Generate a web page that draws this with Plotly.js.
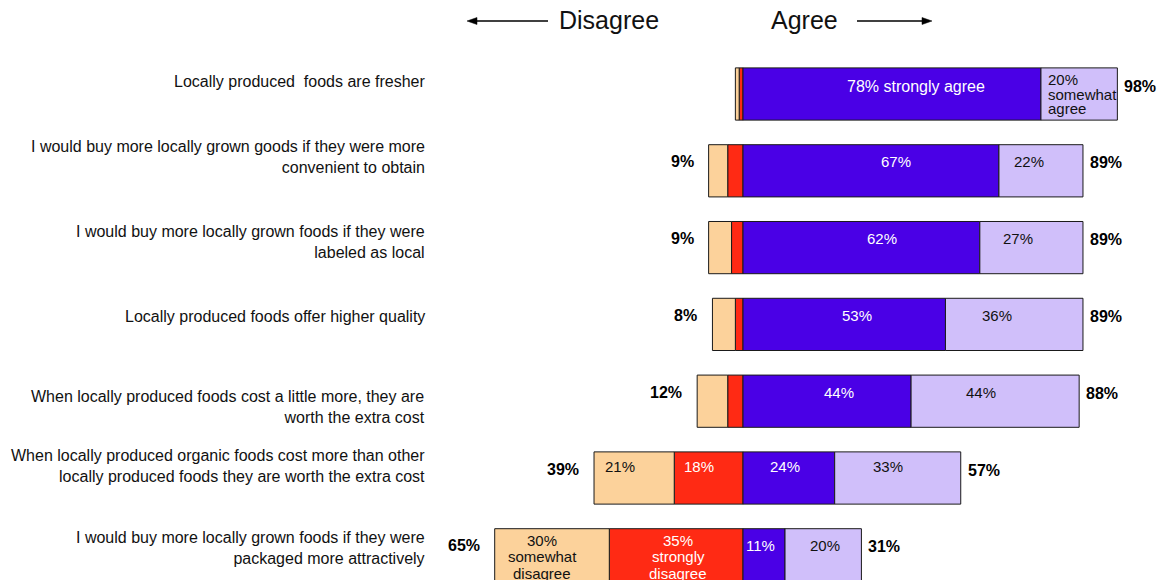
<!DOCTYPE html>
<html><head><meta charset="utf-8">
<script src="https://cdn.plot.ly/plotly-3.0.1.min.js"></script>
<style>body{margin:0;background:#fff}#chart{width:1162px;height:580px}</style>
</head><body><div id="chart"></div>
<script>
// ---- data ----
const statements = [
  "Locally produced  foods are fresher",
  "I would buy more locally grown goods if they were more<br>convenient to obtain",
  "I would buy more locally grown foods if they were<br>labeled as local",
  "Locally produced foods offer higher quality",
  "When locally produced foods cost a little more, they are<br>worth the extra cost",
  "When locally produced organic foods cost more than other<br>locally produced foods they are worth the extra cost",
  "I would buy more locally grown foods if they were<br>packaged more attractively"
];
const somewhatDisagree = [1, 5, 6, 6, 8, 21, 30];
const stronglyDisagree = [1, 4, 3, 2, 4, 18, 35];
const stronglyAgree    = [78, 67, 62, 53, 44, 24, 11];
const somewhatAgree    = [20, 22, 27, 36, 44, 33, 20];
const disagreeTotal    = [null, 9, 9, 8, 12, 39, 65];
const agreeTotal       = [98, 89, 89, 89, 88, 57, 31];
// segment label notes (null = no label shown)
const somewhatDisagreeNote = [null, null, null, null, null, "", "<br>somewhat<br>disagree"];
const stronglyDisagreeNote = [null, null, null, null, null, "", "<br>strongly<br>disagree"];
const stronglyAgreeNote    = [" strongly agree", "", "", "", "", "", ""];
const somewhatAgreeNote    = ["<br>somewhat<br>agree", "", "", "", "", "", ""];
const headers = ["Disagree", "Agree"];

// ---- styling / layout tweaks ----
const FONT = "Liberation Sans, Arial, Helvetica, sans-serif";
const COLORS = {swd: "#FCD29B", sd: "#FF2A14", sa: "#4A00E6", swa: "#D0BFFA"};
const rowIdx = statements.map((_, i) => i);
const stmtNudge = [13, 14, 6, 8, -6, 12, 7];
const singleLift = [8, 9, 9, 9, 9, 12, 9];
const multiLift = [0, 0, 0, 0, 0, 0, -2];
const multiGap = [14.5, 15, 15, 15, 15, 15, 16.5];
const labelShiftX = {"sa-0": 24, "sa-1": 25, "sa-2": 21, "sa-3": 13, "sa-4": 12, "sa-5": -4,
  "swa-1": -12, "swa-2": -13, "swa-3": -17, "swa-4": -14, "swa-5": -10, "swa-6": 2,
  "swd-5": -14, "swd-6": -10, "sd-5": -10, "sd-6": 2, "sa-6": -4};
const leftAlign = {"swa-0": 5};

function barTrace(name, vals, color, sign) {
  return {
    type: "bar", orientation: "h", name: name,
    y: rowIdx, x: vals.map(v => sign * v),
    width: 0.68,
    marker: {color: color, line: {color: "#1a1a1a", width: 1}},
    hoverinfo: "skip", textposition: "none"
  };
}

const data = [
  barTrace("Strongly disagree", stronglyDisagree, COLORS.sd, -1),
  barTrace("Somewhat disagree", somewhatDisagree, COLORS.swd, -1),
  barTrace("Strongly agree", stronglyAgree, COLORS.sa, 1),
  barTrace("Somewhat agree", somewhatAgree, COLORS.swa, 1)
];

const annotations = [];
const shapes = [];

// statements on the left
statements.forEach((s, i) => {
  annotations.push({
    xref: "paper", yref: "y", x: 427 / 1162, y: i, xanchor: "right", yanchor: "middle",
    align: "right", text: s, showarrow: false, yshift: stmtNudge[i],
    font: {family: FONT, size: 16, color: "#111"}
  });
});

// segment labels
function segLabels(key, vals, notes, startFn, color) {
  vals.forEach((v, i) => {
    const note = notes[i];
    if (note === null || note === undefined) return;
    const full = v + "%" + note;
    const lines = full.split("<br>");
    const id = key + "-" + i;
    const start = startFn(i);
    const isLeft = leftAlign[id] !== undefined;
    const cx = isLeft ? start.x0 : start.c;
    const n = lines.length;
    const gap = multiGap[i];
    lines.forEach((ln, k) => {
      const baseLift = n === 1 ? singleLift[i] : multiLift[i];
      annotations.push({
        xref: "x", yref: "y", x: cx, y: i,
        xanchor: isLeft ? "left" : "center", yanchor: "middle",
        xshift: isLeft ? leftAlign[id] : (labelShiftX[id] || 0),
        yshift: baseLift - (k - (n - 1) / 2) * gap,
        text: ln, showarrow: false,
        font: {family: FONT, size: (n === 1 && note) ? 16 : 15, color: color}
      });
    });
  });
}
segLabels("sd", stronglyDisagree, stronglyDisagreeNote,
  i => ({c: -stronglyDisagree[i] / 2, x0: -stronglyDisagree[i]}), "#ffffff");
segLabels("swd", somewhatDisagree, somewhatDisagreeNote,
  i => ({c: -(stronglyDisagree[i] + somewhatDisagree[i] / 2), x0: -(stronglyDisagree[i] + somewhatDisagree[i])}), "#111");
segLabels("sa", stronglyAgree, stronglyAgreeNote,
  i => ({c: stronglyAgree[i] / 2, x0: 0}), "#ffffff");
segLabels("swa", somewhatAgree, somewhatAgreeNote,
  i => ({c: stronglyAgree[i] + somewhatAgree[i] / 2, x0: stronglyAgree[i]}), "#111");

// totals
rowIdx.forEach(i => {
  if (disagreeTotal[i] !== null) {
    annotations.push({
      xref: "x", yref: "y", x: -(stronglyDisagree[i] + somewhatDisagree[i]), y: i,
      xanchor: "right", yanchor: "middle", xshift: -13, yshift: 9,
      text: "<b>" + disagreeTotal[i] + "%</b>", showarrow: false,
      font: {family: FONT, size: 16, color: "#000"}
    });
  }
  annotations.push({
    xref: "x", yref: "y", x: stronglyAgree[i] + somewhatAgree[i], y: i,
    xanchor: "left", yanchor: "middle", xshift: 5, yshift: 8,
    text: "<b>" + agreeTotal[i] + "%</b>", showarrow: false,
    font: {family: FONT, size: 16, color: "#000"}
  });
});

// headers with arrows
const W = 1162, H = 580;
const hy = 1 - 21 / H;
annotations.push({xref: "paper", yref: "paper", x: 609 / W, y: 1 - 20 / H, xanchor: "center", yanchor: "middle",
  text: headers[0], showarrow: false, font: {family: FONT, size: 25, color: "#111"}});
annotations.push({xref: "paper", yref: "paper", x: 804 / W, y: 1 - 20 / H, xanchor: "center", yanchor: "middle",
  text: headers[1], showarrow: false, font: {family: FONT, size: 25, color: "#111"}});
const arrowLine = {color: "#000", width: 1.5};
shapes.push({type: "line", xref: "paper", yref: "paper", x0: 474 / W, x1: 548 / W, y0: hy, y1: hy, line: arrowLine});
shapes.push({type: "line", xref: "paper", yref: "paper", x0: 857 / W, x1: 925 / W, y0: hy, y1: hy, line: arrowLine});
const dy = 3.5 / H;
shapes.push({type: "path", xref: "paper", yref: "paper",
  path: `M ${467 / W} ${hy} L ${477 / W} ${hy + dy} L ${477 / W} ${hy - dy} Z`,
  fillcolor: "#000", line: {color: "#000", width: 0.5}});
shapes.push({type: "path", xref: "paper", yref: "paper",
  path: `M ${932 / W} ${hy} L ${922 / W} ${hy + dy} L ${922 / W} ${hy - dy} Z`,
  fillcolor: "#000", line: {color: "#000", width: 0.5}});

const pxPerPct = 3.82;
const zeroPx = 743;
const rowPx = 76.8, firstRowPx = 94;

const layout = {
  width: W, height: H,
  margin: {l: 0, r: 0, t: 0, b: 0, pad: 0},
  paper_bgcolor: "#ffffff", plot_bgcolor: "#ffffff",
  barmode: "relative",
  showlegend: false,
  xaxis: {range: [-zeroPx / pxPerPct, (W - zeroPx) / pxPerPct], visible: false, fixedrange: true},
  yaxis: {range: [(H - firstRowPx) / rowPx, -firstRowPx / rowPx], visible: false, fixedrange: true},
  annotations: annotations,
  shapes: shapes,
  font: {family: FONT}
};

Plotly.newPlot("chart", data, layout, {displayModeBar: false, staticPlot: true});
</script>
</body></html>
